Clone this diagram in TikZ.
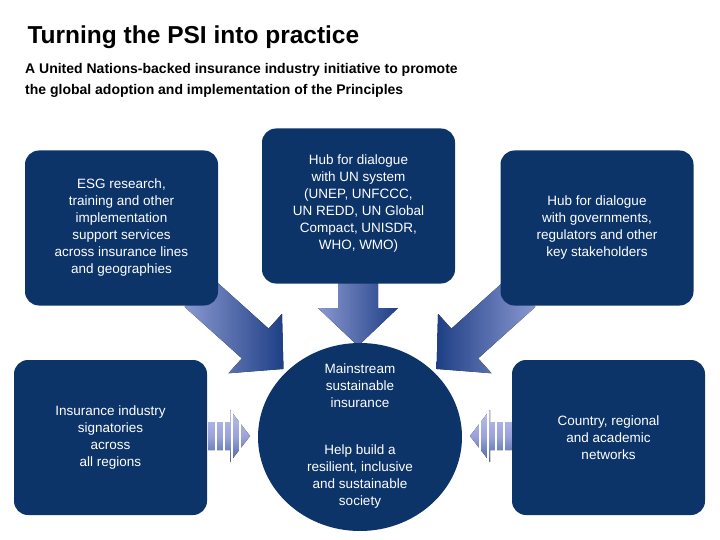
\documentclass[tikz,border=0pt]{standalone}
\usepackage{fontspec}
\setmainfont{Liberation Sans}
\usetikzlibrary{shapes.geometric}
\definecolor{navy}{HTML}{0C3469}
\definecolor{arlight}{HTML}{8A98D0}
\definecolor{ardark}{HTML}{1E3F85}
\definecolor{stripe}{HTML}{9CA3DC}
\tikzset{
 box/.style={fill=navy,rounded corners=14pt,minimum width=193pt,minimum height=155pt,text=white,align=center,font=\fontsize{13.5}{17}\selectfont,inner sep=4pt},
 fat/.style={left color=arlight,right color=ardark,draw=none},
 fatr/.style={left color=ardark,right color=arlight,draw=none},
 btxt/.style={text=white,align=center,font=\fontsize{13.5}{17}\selectfont},
}
\newcommand{\fatarrow}[5]{% x,y,angle,length,style
 \begin{scope}[shift={(#1,#2)},rotate=#3]
  \fill[#5] (0,-20)--(#4-38,-20)--(#4-38,-40)--(#4,0)--(#4-38,40)--(#4-38,20)--(0,20)--cycle;
 \end{scope}}
\newcommand{\striped}[3]{% x,y,dir
 \begin{scope}[shift={(#1,#2)},xscale=#3]
  \fill[top color=stripe!70,bottom color=ardark!80,middle color=stripe] (-20,-14)--(2,-14)--(2,-26)--(22,0)--(2,26)--(2,14)--(-20,14)--cycle;
  \foreach \s in {-12,-4,4,12}{\draw[white,line width=1.2pt] (\s,-26)--(\s,26);}
 \end{scope}}
\begin{document}
\begin{tikzpicture}[x=1pt,y=-1pt]
\useasboundingbox (0,0) rectangle (720,540);
\node[anchor=west,font=\bfseries\fontsize{24.5}{28}\selectfont] (title) at (24,37) {Turning the PSI into practice};
\node[anchor=north west,align=left,font=\bfseries\fontsize{14}{21}\selectfont,inner sep=0pt] (sub) at (25,63) {A United Nations-backed insurance industry initiative to promote\\the global adoption and implementation of the Principles};

\fatarrow{198}{292}{-42}{115}{fat}
\fatarrow{522}{292}{-138}{115}{fatr}
\fatarrow{358}{280}{-90}{66}{fat}
\striped{228}{436}{1}
\striped{492}{436}{-1}

\node[box] (esg) at (121.5,228) {};
\node[btxt] (esgt) at (121.5,228) {ESG research,\\training and other\\implementation\\support services\\across insurance lines\\and geographies};
\node[box] (un) at (358.5,206) {};
\node[btxt] (unt) at (358.5,204) {Hub for dialogue\\with UN system\\(UNEP, UNFCCC,\\UN REDD, UN Global\\Compact, UNISDR,\\WHO, WMO)};
\node[box] (gov) at (597,228) {Hub for dialogue\\with governments,\\regulators and other\\key stakeholders};
\node[box] (ind) at (110.5,437.5) {Insurance industry\\signatories\\across\\all regions};
\node[box] (net) at (608.5,437.5) {Country, regional\\and academic\\networks};
\node[ellipse,fill=navy,minimum width=204pt,minimum height=188pt,inner sep=0pt] (c) at (360,437) {};
\node[btxt] (c1) at (360,386) {Mainstream\\sustainable\\insurance};
\node[btxt] (c2) at (360,477) {Help build a\\resilient, inclusive\\and sustainable\\society};
\end{tikzpicture}
\end{document}
